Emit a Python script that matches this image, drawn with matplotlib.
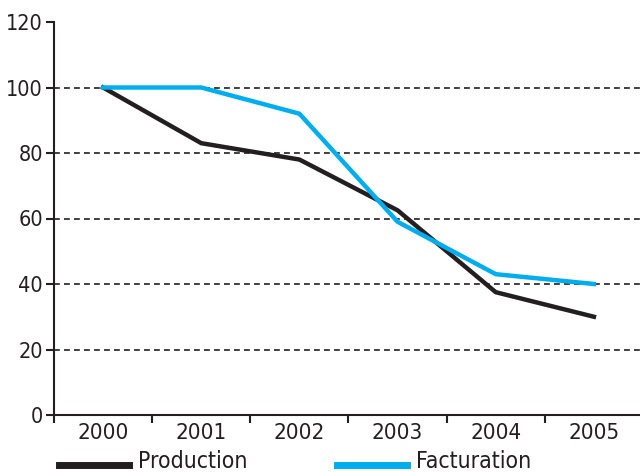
import numpy as np
import matplotlib
matplotlib.use("Agg")
import matplotlib.pyplot as plt

# data
years = ["2000", "2001", "2002", "2003", "2004", "2005"]
production = [100, 83, 78, 62.5, 37.5, 30]
facturation = [100, 100, 92, 59, 43, 40]
yticks = [0, 20, 40, 60, 80, 100, 120]

plt.rcParams['font.family'] = ['DejaVu Sans']
plt.rcParams['font.stretch'] = 'condensed'

fig = plt.figure(figsize=(6.4, 4.72), dpi=100)
ax = fig.add_axes([54 / 640, 57 / 472, 589 / 640, 393 / 472])

x = np.arange(len(years))
ax.plot(x, production, color='#231f20', lw=3.2, label='Production', solid_joinstyle='miter')
ax.plot(x, facturation, color='#00aeef', lw=3.2, label='Facturation', solid_joinstyle='miter')

# dashed gridlines
for v in yticks[1:-1]:
    ax.axhline(v, color='#231f20', lw=1.2, ls=(0, (3.5, 2.5)), zorder=0)

ax.set_xlim(-0.5, len(years) - 0.5)
ax.set_ylim(0, 120)
ax.set_yticks(yticks)
ax.set_xticks(x)
ax.set_xticklabels(years)
ax.set_xticks(np.arange(-0.5, len(years)), minor=True)
ax.tick_params(axis='x', which='major', length=0, pad=6, labelsize=16, colors='#231f20')
ax.tick_params(axis='x', which='minor', length=6, width=1.5, direction='out', color='#231f20')
ax.tick_params(axis='y', length=6, width=1.5, pad=2, labelsize=15.5, colors='#231f20')

for s in ['top', 'right']:
    ax.spines[s].set_visible(False)
for s in ['left', 'bottom']:
    ax.spines[s].set_linewidth(1.5)
    ax.spines[s].set_color('#231f20')

leg = fig.legend(loc='lower left', bbox_to_anchor=(59 / 640, -0.003), ncol=2, frameon=False,
                 fontsize=16.5, handlelength=3.05, handletextpad=0.4, columnspacing=3.9,
                 borderaxespad=0, borderpad=0)
for line in leg.get_lines():
    line.set_linewidth(5)
    # handles sit near the text baseline in the reference
    y = line.get_ydata()
    line.set_ydata([v - 3.5 for v in y])
for t in leg.get_texts():
    t.set_color('#231f20')

fig.savefig("out.png", dpi=100)
